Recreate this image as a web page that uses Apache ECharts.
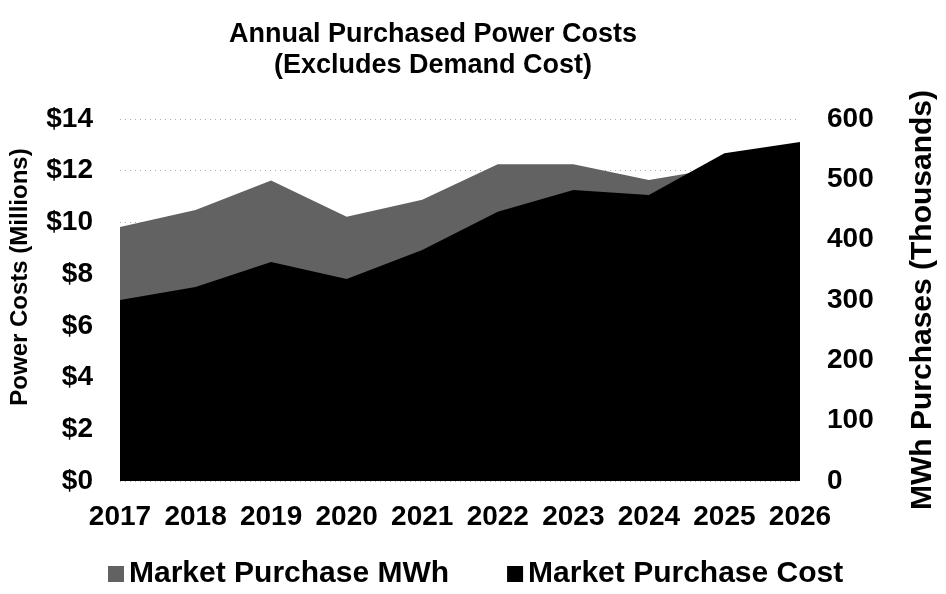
<!DOCTYPE html>
<html>
<head>
<meta charset="utf-8">
<script src="https://cdn.jsdelivr.net/npm/echarts@6/dist/echarts.min.js"></script>
<style>
html,body{margin:0;padding:0;background:#fff;}
#chart{width:946px;height:594px;}
</style>
</head>
<body>
<div id="chart"></div>
<script>
const years = ['2017','2018','2019','2020','2021','2022','2023','2024','2025','2026'];
// Market Purchase MWh (thousands), right axis
const mwhThousands = [421, 449, 498, 438, 466, 525, 525, 499, 520, 532];
// Market Purchase Cost ($ millions), left axis
const costMillions = [7.0, 7.5, 8.47, 7.81, 8.93, 10.41, 11.25, 11.06, 12.68, 13.11];
const leftTicks = {min: 0, max: 14, interval: 2};
const rightTicks = {min: 0, max: 600, interval: 100};

const FONT = "'Liberation Sans', Arial, sans-serif";
const chart = echarts.init(document.getElementById('chart'), null, {renderer: 'canvas'});
chart.setOption({
  animation: false,
  backgroundColor: '#ffffff',
  title: {
    text: 'Annual Purchased Power Costs\n(Excludes Demand Cost)',
    left: 428, top: 14, textAlign: 'center',
    textStyle: {fontFamily: FONT, fontWeight: 'bold', fontSize: 27, lineHeight: 31, color: '#000'}
  },
  legend: {
    top: 554, left: 103, itemWidth: 16, itemHeight: 16, itemGap: 58,
    textStyle: {fontFamily: FONT, fontWeight: 'bold', fontSize: 30, color: '#000'},
    data: [
      {name: 'Market Purchase MWh', icon: 'rect', itemStyle: {color: '#626262'}},
      {name: 'Market Purchase Cost', icon: 'rect', itemStyle: {color: '#000'}}
    ]
  },
  grid: {left: 120, right: 136, top: 119, bottom: 113},
  xAxis: {
    type: 'category', data: years, boundaryGap: false,
    axisLine: {show: false}, axisTick: {show: false},
    axisLabel: {fontFamily: FONT, fontWeight: 'bold', fontSize: 28, color: '#000', margin: 22, interval: 0}
  },
  yAxis: [
    {
      type: 'value', min: leftTicks.min, max: leftTicks.max, interval: leftTicks.interval,
      name: 'Power Costs (Millions)', nameLocation: 'middle', nameGap: 88, nameRotate: 90,
      nameTextStyle: {fontFamily: FONT, fontWeight: 'bold', fontSize: 24, color: '#000', padding: [0, 0, 0, 46]},
      axisLine: {show: false}, axisTick: {show: false},
      axisLabel: {formatter: '${value}', fontFamily: FONT, fontWeight: 'bold', fontSize: 28, color: '#000', margin: 27},
      splitLine: {show: true, lineStyle: {color: '#aaaaaa', type: [1, 4], width: 1}}
    },
    {
      type: 'value', min: rightTicks.min, max: rightTicks.max, interval: rightTicks.interval,
      name: 'MWh Purchases (Thousands)', nameLocation: 'middle', nameGap: 108, nameRotate: 90,
      nameTextStyle: {fontFamily: FONT, fontWeight: 'bold', fontSize: 30, color: '#000'},
      axisLine: {show: false}, axisTick: {show: false},
      axisLabel: {fontFamily: FONT, fontWeight: 'bold', fontSize: 28, color: '#000', margin: 27},
      splitLine: {show: false}
    }
  ],
  series: [
    {
      name: 'Market Purchase MWh', type: 'line', yAxisIndex: 1, data: mwhThousands,
      symbol: 'none', lineStyle: {width: 0}, itemStyle: {color: '#626262'},
      areaStyle: {color: '#626262', opacity: 1}
    },
    {
      name: 'Market Purchase Cost', type: 'line', yAxisIndex: 0, data: costMillions,
      symbol: 'none', lineStyle: {width: 0}, itemStyle: {color: '#000'},
      areaStyle: {color: '#000', opacity: 1}
    }
  ]
});
</script>
</body>
</html>
